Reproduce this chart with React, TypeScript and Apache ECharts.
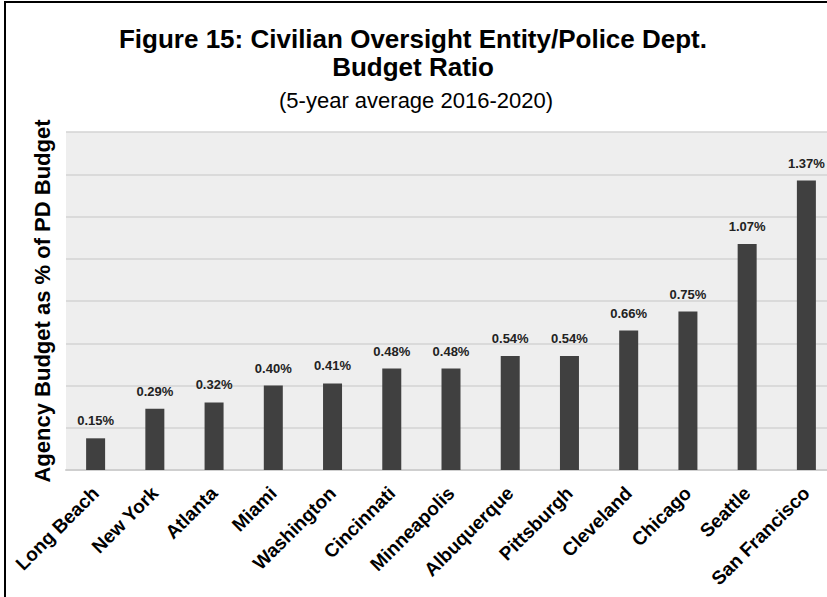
import React, { useEffect, useRef } from "react";
import * as echarts from "echarts";

const cities = [
  "Long Beach", "New York", "Atlanta", "Miami", "Washington", "Cincinnati",
  "Minneapolis", "Albuquerque", "Pittsburgh", "Cleveland", "Chicago", "Seattle", "San Francisco",
];
const ratios = [0.15, 0.29, 0.32, 0.40, 0.41, 0.48, 0.48, 0.54, 0.54, 0.66, 0.75, 1.07, 1.37];
const titleText = "Figure 15: Civilian Oversight Entity/Police Dept.\nBudget Ratio";
const subtitleText = "(5-year average 2016-2020)";
const yAxisTitle = "Agency Budget as % of PD Budget";

export default function App() {
  const ref = useRef<HTMLDivElement>(null);
  useEffect(() => {
    if (!ref.current) return;
    const chart = echarts.init(ref.current, null, { renderer: "svg" });
    const font = "'Liberation Sans', Arial, sans-serif";
    chart.setOption({
      animation: false,
      backgroundColor: "#ffffff",
      textStyle: { fontFamily: font },
      title: [
        {
          text: titleText,
          left: 408,
          top: 20,
          textAlign: "center",
          textStyle: { fontSize: 26, fontWeight: "bold", color: "#000", lineHeight: 28, fontFamily: font },
        },
        {
          text: subtitleText,
          left: 411,
          top: 84,
          textAlign: "center",
          textStyle: { fontSize: 22, fontWeight: "normal", color: "#000", fontFamily: font },
        },
      ],
      graphic: [
        {
          type: "rect",
          shape: { x: 5, y: 2, width: 1000, height: 1000 },
          style: { fill: "none", stroke: "#000", lineWidth: 2 },
          z: 100,
        },
      ],
      grid: {
        left: 66,
        top: 132,
        width: 770,
        height: 338,
        show: true,
        backgroundColor: "#eeeeee",
        borderWidth: 0,
      },
      xAxis: {
        type: "category",
        data: cities,
        axisLine: { show: true, lineStyle: { color: "#cfcfcf", width: 2 } },
        axisTick: { show: false },
        axisLabel: {
          rotate: 45,
          interval: 0,
          margin: 20,
          color: "#000",
          fontSize: 19,
          fontWeight: "bold",
          fontFamily: font,
        },
      },
      yAxis: {
        type: "value",
        min: 0,
        max: 1.6,
        interval: 0.2,
        name: yAxisTitle,
        nameLocation: "middle",
        nameGap: 13,
        nameTextStyle: { fontSize: 22, fontWeight: "bold", color: "#000", fontFamily: font },
        axisLine: { show: false },
        axisTick: { show: false },
        axisLabel: { show: false },
        splitLine: { show: true, lineStyle: { color: "#d3d3d3", width: 1.5 } },
      },
      series: [
        {
          type: "bar",
          data: ratios,
          barWidth: 19,
          itemStyle: { color: "#404040" },
          label: {
            show: true,
            position: "top",
            distance: 11,
            color: "#222",
            fontSize: 13,
            fontWeight: "bold",
            fontFamily: font,
            formatter: (p: any) => Number(p.value).toFixed(2) + "%",
          },
        },
      ],
    });
    return () => chart.dispose();
  }, []);
  return (
    <div style={{ position: "fixed", left: 0, top: 0, width: 827, height: 597, overflow: "hidden", background: "#fff" }}>
      <div ref={ref} style={{ width: 850, height: 620 }} />
    </div>
  );
}
